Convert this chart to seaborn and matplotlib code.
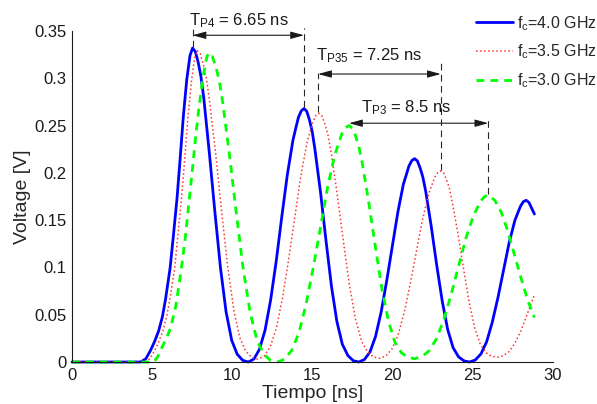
import numpy as np
import pandas as pd
import matplotlib
matplotlib.use("Agg")
import matplotlib.pyplot as plt
from matplotlib.ticker import FuncFormatter
import seaborn as sns

# pulso fc = 4.0 GHz (azul)
t_40 = [0, 3.9, 4.27, 4.60, 4.89, 5.15, 5.41, 5.64, 5.83, 6.12, 6.32, 6.55, 6.74, 6.94, 7.16, 7.36, 7.52,
        7.69, 7.87, 8.04, 8.22, 8.56, 8.91, 9.26, 9.61, 9.96, 10.30, 10.65, 11.0,
        11.35, 11.69, 12.04, 12.39, 12.74, 13.08, 13.43, 13.78, 13.95, 14.12, 14.30, 14.47,
        14.64, 14.81, 14.98, 15.15, 15.50, 15.84, 16.18, 16.52, 16.86, 17.21, 17.55, 17.89,
        18.24, 18.59, 18.93, 19.28, 19.63, 19.98, 20.33, 20.67, 20.85, 21.02, 21.20, 21.37,
        21.54, 21.71, 21.88, 22.06, 22.40, 22.74, 23.09, 23.43, 23.77, 24.11, 24.46, 24.80,
        25.15, 25.51, 25.86, 26.21, 26.57, 26.92, 27.27, 27.62, 27.80, 27.98, 28.15, 28.33,
        28.5, 28.7, 28.84]
v_40 = [0, 0, 0, 0.0033, 0.012, 0.0216, 0.0332, 0.048, 0.066, 0.0996, 0.133, 0.173, 0.214, 0.259, 0.299, 0.324, 0.332,
        0.3283, 0.317, 0.302, 0.279, 0.222, 0.159, 0.0996, 0.053, 0.023, 0.0083, 0.0017, 0,
        0.0032, 0.0134, 0.0335, 0.0657, 0.107, 0.153, 0.198, 0.2345, 0.2468, 0.2586, 0.2656, 0.268,
        0.2651, 0.256, 0.2439, 0.225, 0.1796, 0.1286, 0.0804, 0.0429, 0.0188, 0.0067, 0.0013, 0,
        0.0026, 0.0108, 0.0269, 0.0527, 0.086, 0.1226, 0.1591, 0.1881, 0.198, 0.2075, 0.2131, 0.215,
        0.2126, 0.2053, 0.1957, 0.1806, 0.1441, 0.1032, 0.0645, 0.0344, 0.0151, 0.0054, 0.0011, 0,
        0.0021, 0.0086, 0.0214, 0.0419, 0.0684, 0.0975, 0.1265, 0.1496, 0.1575, 0.165, 0.1695, 0.171,
        0.1687, 0.1615, 0.1565]

# pulso fc = 3.5 GHz (rojo)
t_35 = [0, 4.1, 4.52, 4.85, 5.15, 5.41, 5.67, 5.90, 6.10, 6.40, 6.59, 6.82, 7.02, 7.22, 7.45, 7.65, 7.81,
        8.00, 8.19, 8.38, 8.57, 8.95, 9.33, 9.71, 10.09, 10.46, 10.84, 11.22, 11.6,
        11.98, 12.36, 12.74, 13.12, 13.5, 13.88, 14.26, 14.64, 14.83, 15.02, 15.21, 15.4,
        15.59, 15.78, 15.97, 16.16, 16.54, 16.92, 17.3, 17.68, 18.06, 18.44, 18.82, 19.2,
        19.58, 19.96, 20.34, 20.72, 21.1, 21.48, 21.86, 22.24, 22.43, 22.62, 22.81, 23.0,
        23.18, 23.35, 23.53, 23.70, 24.06, 24.41, 24.76, 25.11, 25.46, 25.82, 26.17, 26.52,
        26.89, 27.26, 27.63, 28.0, 28.38, 28.84]
v_35 = [0, 0, 0, 0.0033, 0.0119, 0.0214, 0.033, 0.0478, 0.0659, 0.0988, 0.1318, 0.1713, 0.2125, 0.257, 0.2966, 0.3216, 0.3295,
        0.3259, 0.3148, 0.3001, 0.2773, 0.2218, 0.1597, 0.101, 0.0552, 0.0259, 0.0112, 0.0046, 0.003,
        0.0061, 0.016, 0.0355, 0.0667, 0.107, 0.1512, 0.1954, 0.2305, 0.2425, 0.2539, 0.2607, 0.263,
        0.2602, 0.2513, 0.2397, 0.2216, 0.1775, 0.1283, 0.0817, 0.0454, 0.0221, 0.0105, 0.0053, 0.004,
        0.0064, 0.0139, 0.0288, 0.0525, 0.0832, 0.1169, 0.1505, 0.1773, 0.1864, 0.1951, 0.2002, 0.202,
        0.1998, 0.1931, 0.1843, 0.1705, 0.137, 0.0996, 0.0641, 0.0365, 0.0188, 0.0099, 0.006, 0.005,
        0.0065, 0.011, 0.02, 0.033, 0.05, 0.071]

# pulso fc = 3.0 GHz (verde)
t_30 = [0, 4.74, 5.11, 5.36, 5.62, 5.89, 6.15, 6.46, 6.66, 6.87, 7.09, 7.29, 7.50, 7.70, 7.91, 8.12, 8.32, 8.43, 8.54,
        8.75, 8.97, 9.18, 9.40, 9.82, 10.25, 10.68, 11.11, 11.54, 11.96, 12.39, 12.82,
        13.27, 13.71, 14.16, 14.60, 15.05, 15.50, 15.94, 16.39, 16.61, 16.83, 17.06, 17.28,
        17.48, 17.69, 17.89, 18.10, 18.51, 18.92, 19.33, 19.74, 20.14, 20.55, 20.96, 21.37,
        21.83, 22.29, 22.75, 23.21, 23.67, 24.12, 24.58, 25.04, 25.27, 25.50, 25.73, 25.96,
        26.37, 26.78, 27.19, 27.60, 28.02, 28.43, 28.84]
v_30 = [0, 0, 0, 0.006, 0.016, 0.025, 0.036, 0.058, 0.08, 0.105, 0.135, 0.168, 0.202, 0.236, 0.268, 0.295, 0.316, 0.3235, 0.327,
        0.3234, 0.3123, 0.2976, 0.2747, 0.2191, 0.157, 0.0981, 0.0523, 0.0229, 0.0082, 0.0016, 0,
        0.003, 0.0125, 0.0313, 0.0613, 0.10, 0.1425, 0.185, 0.2188, 0.2303, 0.2413, 0.2478, 0.25,
        0.2473, 0.2389, 0.2278, 0.2106, 0.1687, 0.1218, 0.0775, 0.043, 0.0208, 0.0097, 0.0047, 0.0035,
        0.0056, 0.0122, 0.0251, 0.0459, 0.0727, 0.1021, 0.1315, 0.1549, 0.1628, 0.1705, 0.1749, 0.1765,
        0.171, 0.158, 0.138, 0.113, 0.088, 0.065, 0.047]

etiquetas = [r'$\mathregular{f_c}$=4.0 GHz', r'$\mathregular{f_c}$=3.5 GHz', r'$\mathregular{f_c}$=3.0 GHz']

# periodos marcados: (subindice, valor, x inicio, x fin, y flecha)
periodos = [('P4', '6.65', 7.52, 14.47, 0.3455),
            ('P35', '7.25', 15.35, 23.0, 0.3045),
            ('P3', '8.5', 17.28, 25.96, 0.2525)]
textos = [(7.3, 0.3565), (15.24, 0.3186), (18.0, 0.2636)]
guias = [(7.52, 0.333, 0.353), (14.47, 0.27, 0.353), (15.35, 0.264, 0.3055),
         (23.0, 0.203, 0.3165), (25.96, 0.178, 0.2577)]

sns.set_theme(style='white')
plt.rcParams['font.family'] = ['Liberation Sans', 'DejaVu Sans']
plt.rcParams['mathtext.fontset'] = 'custom'
plt.rcParams['mathtext.rm'] = 'Liberation Sans'

fig = plt.figure(figsize=(5.97, 4.04), dpi=100)
ax = fig.add_axes([72 / 597, 1 - 362 / 404, 481 / 597, 331 / 404])

estilos = [('#0000ff', '-', 2.0), ('#ff3030', ':', 1.1), ('#00ff00', (0, (2.8, 2.2)), 2.0)]
series = [(t_40, v_40), (t_35, v_35), (t_30, v_30)]
for (t, v), lab, (col, ls, lw) in zip(series, etiquetas, estilos):
    df = pd.DataFrame({'t': t, 'v': v})
    sns.lineplot(data=df, x='t', y='v', ax=ax, color=col, linestyle=ls, linewidth=lw,
                 label=lab, clip_on=False, sort=False)

ax.set_xlim(0, 30)
ax.set_ylim(0, 0.35)
ax.set_xticks(np.arange(0, 31, 5))
ax.set_yticks(np.arange(0, 0.351, 0.05))
ax.yaxis.set_major_formatter(FuncFormatter(lambda v, _: f'{v:g}'))
ax.tick_params(direction='in', length=4, width=0.8, labelsize=12, colors='k', pad=4)
sns.despine(ax=ax)
for s in ['left', 'bottom']:
    ax.spines[s].set_color('k')
    ax.spines[s].set_linewidth(0.8)
ax.set_xlabel('Tiempo [ns]', fontsize=14, labelpad=2)
ax.set_ylabel('Voltage [V]', fontsize=14, labelpad=2)

# lineas verticales de referencia
for x, y0, y1 in guias:
    ax.plot([x, x], [y0, y1], color='0.15', lw=0.8, ls=(0, (6, 4)), clip_on=False)

for sub, val, x0, x1, y in periodos:
    ax.annotate('', xy=(x1, y), xytext=(x0, y),
                arrowprops=dict(arrowstyle='<|-|>,head_length=0.8,head_width=0.22',
                                color='k', lw=0.8, shrinkA=0, shrinkB=0, mutation_scale=10),
                annotation_clip=False)

for (sub, val, *_), (x, y) in zip(periodos, textos):
    ax.text(x, y, r'$\mathregular{T_{%s}}$ = %s ns' % (sub, val), fontsize=12,
            ha='left', va='baseline', color='k')

ax.legend(loc='upper left', bbox_to_anchor=(476 / 597, 1 - 14 / 404), bbox_transform=fig.transFigure,
          frameon=False, fontsize=11.5, borderpad=0, borderaxespad=0, handlelength=2.3,
          handletextpad=0.25, labelspacing=0.62)

fig.savefig('out.png', dpi=100)
